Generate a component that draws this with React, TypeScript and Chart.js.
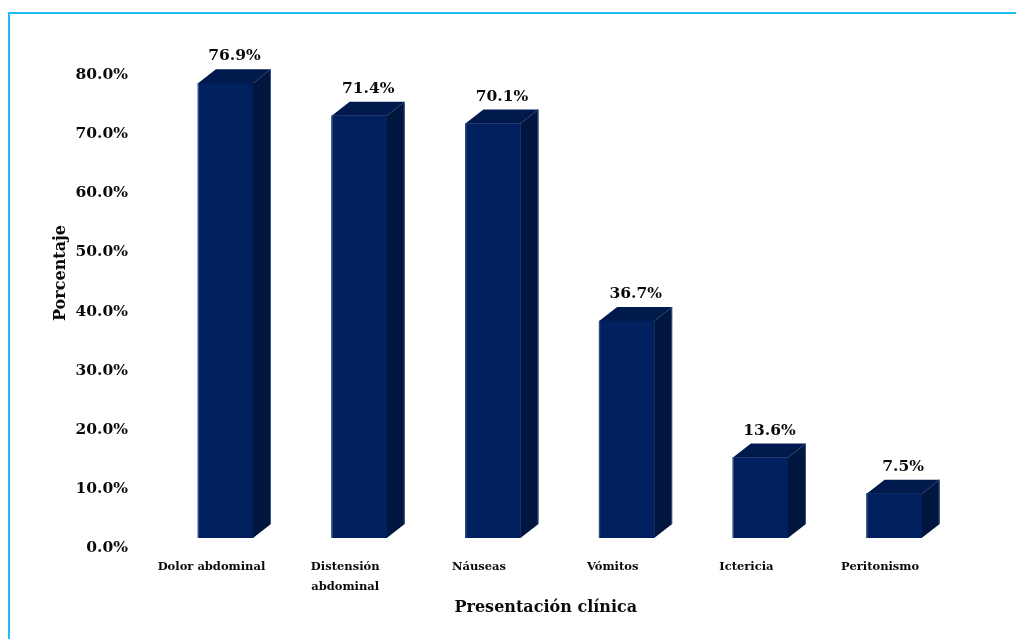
import React, { useEffect, useRef } from "react";
import { Chart, registerables } from "chart.js";

Chart.register(...registerables);

const categories: (string | string[])[] = [
  "Dolor abdominal",
  ["Distensión", "abdominal"],
  "Náuseas",
  "Vómitos",
  "Ictericia",
  "Peritonismo",
];
const percentages: number[] = [76.9, 71.4, 70.1, 36.7, 13.6, 7.5];
const yTicks: number[] = [0, 10, 20, 30, 40, 50, 60, 70, 80];
const yTitle = "Porcentaje";
const xTitle = "Presentación clínica";

const FRONT = "#002060";
const SIDE = "#00163F";
const TOP = "#001A4E";
const DX = 18;
const DY = 14;
const FONT = "'DejaVu Serif', serif";
const INK = "#0a0a0a";

const barsPlugin = {
  id: "bars3d",
  afterDatasetsDraw(chart: any) {
    const ctx = chart.ctx;
    const meta = chart.getDatasetMeta(0);
    ctx.save();
    meta.data.forEach((bar: any, i: number) => {
      const { x, y, base, width } = bar.getProps(["x", "y", "base", "width"], true);
      const l = x - width / 2;
      const r = x + width / 2;
      ctx.fillStyle = TOP;
      ctx.beginPath();
      ctx.moveTo(l, y);
      ctx.lineTo(l + DX, y - DY);
      ctx.lineTo(r + DX, y - DY);
      ctx.lineTo(r, y);
      ctx.closePath();
      ctx.fill();
      ctx.fillStyle = SIDE;
      ctx.beginPath();
      ctx.moveTo(r, y);
      ctx.lineTo(r + DX, y - DY);
      ctx.lineTo(r + DX, base - DY);
      ctx.lineTo(r, base);
      ctx.closePath();
      ctx.fill();
      ctx.fillStyle = "#3A5285";
      ctx.fillRect(l, y, 1, base - y);
      ctx.fillRect(r + DX - 1, y - DY, 1, base - y);
      ctx.fillStyle = INK;
      ctx.font = `bold 15.5px ${FONT}`;
      ctx.textAlign = "center";
      ctx.textBaseline = "middle";
      ctx.fillText(percentages[i].toFixed(1) + "%", x + DX / 2, y - DY - 13);
    });
    ctx.restore();
  },
};

const framePlugin = {
  id: "frameTitles",
  beforeDraw(chart: any) {
    const ctx = chart.ctx;
    ctx.save();
    ctx.fillStyle = "#fff";
    ctx.fillRect(0, 0, chart.width, chart.height);
    ctx.fillStyle = "#1EBEF0";
    ctx.fillRect(8, 12, 2, chart.height - 12);
    ctx.fillRect(8, 12, chart.width - 8, 2);
    ctx.restore();
  },
  afterDraw(chart: any) {
    const ctx = chart.ctx;
    const a = chart.chartArea;
    ctx.save();
    ctx.fillStyle = INK;
    ctx.font = `bold 16px ${FONT}`;
    ctx.textAlign = "center";
    ctx.textBaseline = "middle";
    ctx.fillText(xTitle, (a.left + a.right) / 2 - 14, a.bottom + 70);
    ctx.translate(a.left - 98, a.top + 208);
    ctx.rotate(-Math.PI / 2);
    ctx.fillText(yTitle, 0, 0);
    ctx.restore();
  },
};

export default function App() {
  const ref = useRef<HTMLCanvasElement>(null);
  useEffect(() => {
    document.body.style.margin = "0";
    document.body.style.overflow = "hidden";
    const chart = new Chart(ref.current!, {
      type: "bar",
      data: {
        labels: categories as any,
        datasets: [
          {
            data: percentages,
            backgroundColor: FRONT,
            borderWidth: 0,
            barThickness: 55,
          },
        ],
      },
      options: {
        animation: false,
        responsive: false,
        layout: { padding: { left: 0, right: 55, top: 65, bottom: 0 } },
        plugins: { legend: { display: false }, tooltip: { enabled: false } },
        scales: {
          x: {
            grid: { display: false, drawTicks: false },
            border: { display: false },
            ticks: {
              color: INK,
              font: { family: FONT, weight: "bold", size: 11.5, lineHeight: 1.75 },
              padding: 19,
              labelOffset: -14,
              maxRotation: 0,
              autoSkip: false,
            },
            afterFit: (s: any) => {
              s.height = 101;
            },
          },
          y: {
            min: 0,
            max: 80,
            grid: { display: false, drawTicks: false },
            border: { display: false },
            afterBuildTicks: (s: any) => {
              s.ticks = yTicks.map((v) => ({ value: v }));
            },
            ticks: {
              color: INK,
              font: { family: FONT, weight: "bold", size: 15.5 },
              padding: 30.6,
              labelOffset: 10,
              callback: (v: any) => Number(v).toFixed(1) + "%",
            },
            afterFit: (s: any) => {
              s.width = 158.6;
            },
          },
        },
      },
      plugins: [framePlugin, barsPlugin],
    });
    return () => chart.destroy();
  }, []);
  return <canvas ref={ref} width={1016} height={639} style={{ display: "block" }} />;
}
